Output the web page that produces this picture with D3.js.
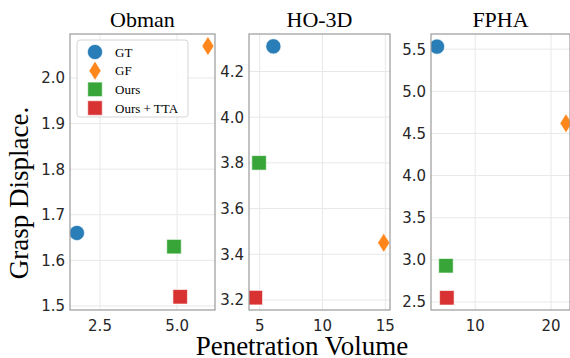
<!DOCTYPE html>
<html>
<head>
<meta charset="utf-8">
<script src="https://cdn.jsdelivr.net/npm/d3@7"></script>
<style>
  body { margin: 0; background: #fff; }
  svg { display: block; }
</style>
</head>
<body>
<svg id="chart"></svg>
<script>
// datasets and methods
const datasets = ['Obman', 'HO-3D', 'FPHA'];
const methods = ['GT', 'GF', 'Ours', 'Ours + TTA'];

// penetration volume (x) per method, one value per dataset
const penGT = [1.75, 6.09, 4.96];
const penGF = [6.0, 14.87, 21.97];
const penOurs = [4.9, 4.95, 6.14];
const penTTA = [5.1, 4.65, 6.26];

// grasp displacement (y) per method
const dispGT = [1.66, 4.31, 5.53];
const dispGF = [2.07, 3.45, 4.62];
const dispOurs = [1.63, 3.80, 2.93];
const dispTTA = [1.52, 3.21, 2.55];

// axis ranges and tick labels per panel
const xDomains = [[1.526, 6.23], [4.15, 15.37], [4.17, 22.5]];
const yDomains = [[1.491, 2.0965], [3.156, 4.364], [2.405, 5.68]];
const xTicks = [[2.5, 5.0], [5, 10, 15], [10, 20]];
const yTicks = [[1.5, 1.6, 1.7, 1.8, 1.9, 2.0], [3.2, 3.4, 3.6, 3.8, 4.0, 4.2], [2.5, 3.0, 3.5, 4.0, 4.5, 5.0, 5.5]];
const xFormats = ['.1f', 'd', 'd'];

const width = 570, height = 358;
const panels = [
  { left: 70, right: 215 },
  { left: 249, right: 390 },
  { left: 431, right: 570 }
];
const plotTop = 34, plotBottom = 310;

const colors = ['#1f77b4', '#ff7f0e', '#2ca02c', '#d62728'];
const shapes = [d3.symbolCircle, 'diamond', d3.symbolSquare, d3.symbolSquare];
const pens = [penGT, penGF, penOurs, penTTA];
const disps = [dispGT, dispGF, dispOurs, dispTTA];

const serif = '"Liberation Serif", "Times New Roman", serif';
const sans = '"DejaVu Sans", sans-serif';

const svg = d3.select('#chart')
  .attr('width', width)
  .attr('height', height);

function markerPath(i, scale) {
  const s = scale || 1;
  if (shapes[i] === 'diamond') {
    const w = 6 * s, h = 9.5 * s;
    return `M0,${-h}L${w},0L0,${h}L${-w},0Z`;
  }
  if (shapes[i] === d3.symbolCircle) return d3.symbol(d3.symbolCircle, 180 * s * s)();
  return d3.symbol(d3.symbolSquare, 210 * s * s)();
}

panels.forEach((p, k) => {
  const x = d3.scaleLinear().domain(xDomains[k]).range([p.left, p.right]);
  const y = d3.scaleLinear().domain(yDomains[k]).range([plotBottom, plotTop]);
  const g = svg.append('g');

  const clipId = 'clip' + k;
  g.append('clipPath').attr('id', clipId)
    .append('rect')
    .attr('x', p.left).attr('y', plotTop)
    .attr('width', p.right - p.left).attr('height', plotBottom - plotTop);

  // grid
  g.selectAll('.gx').data(xTicks[k]).enter().append('line')
    .attr('x1', d => x(d)).attr('x2', d => x(d))
    .attr('y1', plotTop).attr('y2', plotBottom)
    .attr('stroke', '#e8e8e8').attr('stroke-width', 1);
  g.selectAll('.gy').data(yTicks[k]).enter().append('line')
    .attr('x1', p.left).attr('x2', p.right)
    .attr('y1', d => y(d)).attr('y2', d => y(d))
    .attr('stroke', '#e8e8e8').attr('stroke-width', 1);

  // tick labels
  g.selectAll('.tx').data(xTicks[k]).enter().append('text')
    .attr('x', d => x(d)).attr('y', plotBottom + 21)
    .attr('text-anchor', 'middle')
    .style('font-family', sans).style('font-size', '15px').style('fill', '#262626')
    .text(d => d3.format(xFormats[k])(d));
  g.selectAll('.ty').data(yTicks[k]).enter().append('text')
    .attr('x', p.left - 5).attr('y', d => y(d))
    .attr('dy', '0.36em')
    .attr('text-anchor', 'end')
    .style('font-family', sans).style('font-size', '15px').style('fill', '#262626')
    .text(d => d3.format('.1f')(d));

  // points
  const pts = methods.map((m, i) => ({ i, px: pens[i][k], py: disps[i][k] }));
  g.append('g').attr('clip-path', `url(#${clipId})`)
    .selectAll('path').data(pts).enter().append('path')
    .attr('d', d => markerPath(d.i))
    .attr('transform', d => `translate(${x(d.px)},${y(d.py)})`)
    .attr('fill', d => colors[d.i])
    .attr('fill-opacity', 0.95)
    .attr('stroke', '#fff').attr('stroke-width', 0.6);

  // frame
  g.append('rect')
    .attr('x', p.left).attr('y', plotTop)
    .attr('width', p.right - p.left).attr('height', plotBottom - plotTop)
    .attr('fill', 'none').attr('stroke', '#9a9a9a').attr('stroke-width', 1.2);

  // title
  g.append('text')
    .attr('x', (p.left + p.right) / 2).attr('y', 27)
    .attr('text-anchor', 'middle')
    .style('font-family', serif).style('font-size', '22px').style('fill', '#000')
    .text(datasets[k]);

  // legend in first panel
  if (k === 0) {
    const lg = g.append('g');
    lg.append('rect')
      .attr('x', 77).attr('y', 40).attr('width', 111).attr('height', 77)
      .attr('rx', 3)
      .attr('fill', '#fff').attr('fill-opacity', 0.85)
      .attr('stroke', '#d5d5d5').attr('stroke-width', 1);
    const rowY = d3.scalePoint().domain(methods).range([52, 108]);
    methods.forEach((m, i) => {
      lg.append('path')
        .attr('d', markerPath(i))
        .attr('transform', `translate(95,${rowY(m)})`)
        .attr('fill', colors[i]).attr('fill-opacity', 0.95)
        .attr('stroke', '#fff').attr('stroke-width', 0.6);
      lg.append('text')
        .attr('x', 115).attr('y', rowY(m)).attr('dy', '0.35em')
        .style('font-family', serif).style('font-size', '13px').style('fill', '#000')
        .text(m);
    });
  }
});

// axis labels
svg.append('text')
  .attr('x', 302).attr('y', 355)
  .attr('text-anchor', 'middle')
  .style('font-family', serif).style('font-size', '27px').style('fill', '#000')
  .text('Penetration Volume');

svg.append('text')
  .attr('transform', 'translate(28,193) rotate(-90)')
  .attr('text-anchor', 'middle')
  .style('font-family', serif).style('font-size', '27px').style('fill', '#000')
  .text('Grasp Displace.');
</script>
</body>
</html>
